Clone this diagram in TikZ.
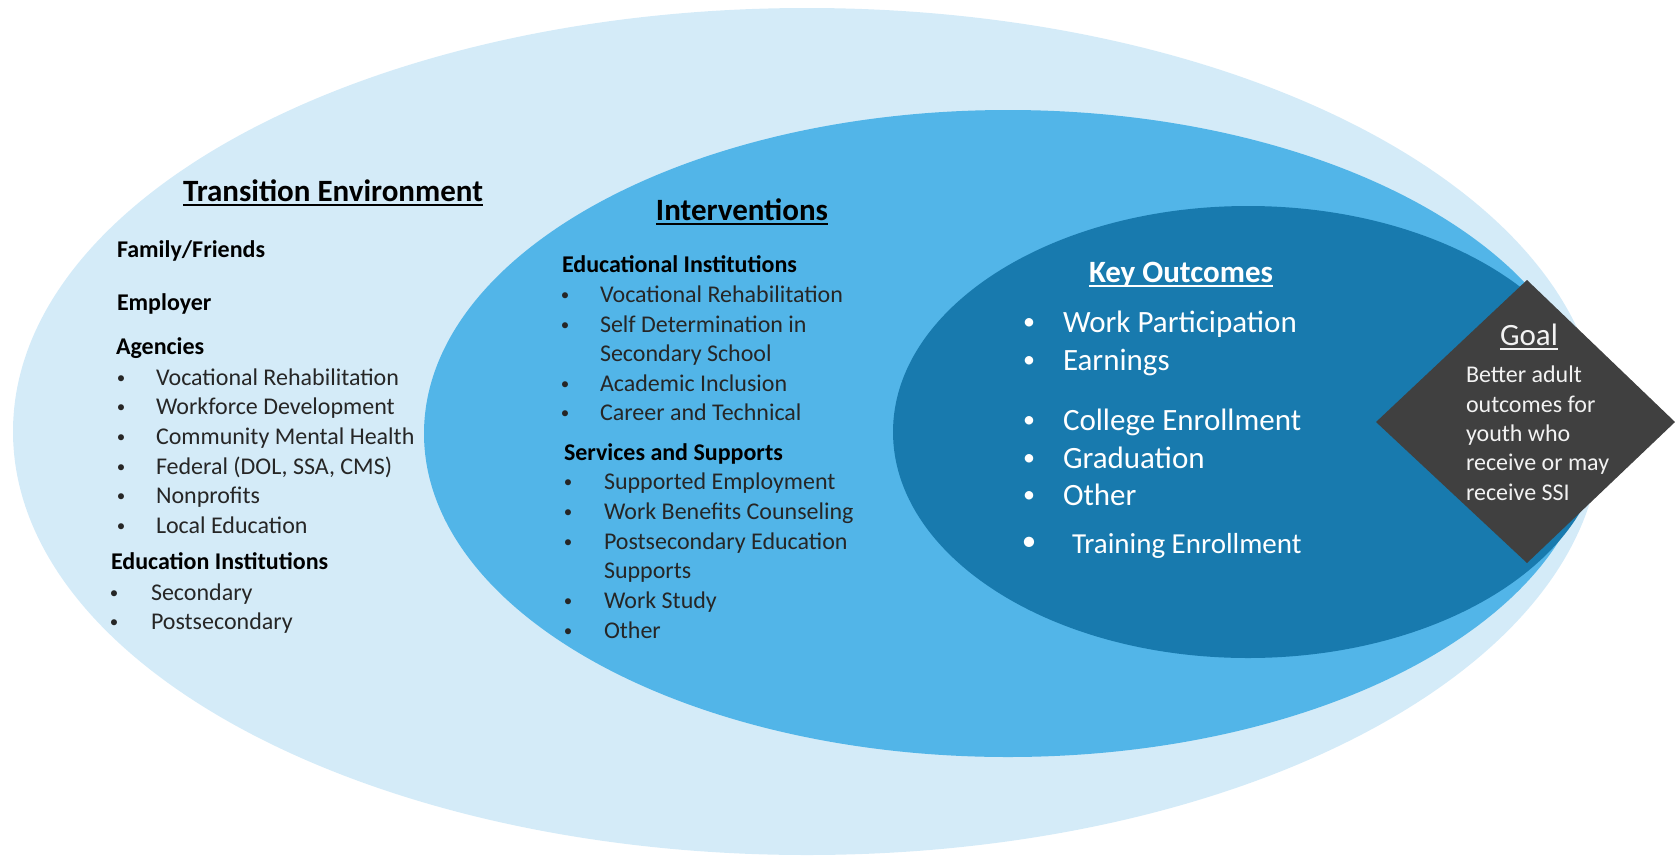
\documentclass[tikz,border=0pt]{standalone}
\usepackage{fontspec}
\setmainfont{Carlito}
\definecolor{outerc}{RGB}{212,235,248}
\definecolor{midc}{RGB}{82,181,232}
\definecolor{innerc}{RGB}{24,122,174}
\definecolor{goalc}{RGB}{64,64,64}
\definecolor{itemc}{RGB}{38,38,38}
\definecolor{goaltxt}{RGB}{242,242,242}
\newcommand\myul[1]{\setbox0\hbox{#1}\rlap{\rule[-0.17em]{\wd0}{0.065em}}\box0}
\newcommand\itm[5]{%
  \node[itemtxt,bul] (#1b) at (#2,#4) {\raisebox{2pt}{\textbullet}};
  \node[itemtxt] (#1) at (#3,#4) {#5};}
\newcommand\kitm[5]{%
  \node[outtxt,obul] (#1b) at (#2,#4) {\raisebox{2.5pt}{\textbullet}};
  \node[outtxt] (#1) at (#3,#4) {#5};}
\begin{document}
\begin{tikzpicture}[x=1pt,y=-1pt,
  base/.style={anchor=base west,inner sep=0pt,outer sep=0pt},
  itemtxt/.style={base,text=itemc,font=\fontsize{24}{29}\selectfont},
  hd/.style={base,text=black,font=\fontsize{24}{29}\selectfont\bfseries},
  ttl/.style={anchor=base,inner sep=0pt,outer sep=0pt,text=black,font=\fontsize{31}{37}\selectfont\bfseries},
  outtxt/.style={base,text=white,font=\fontsize{31}{37}\selectfont},
  goaltx/.style={base,text=goaltxt,font=\fontsize{24}{29}\selectfont},
  bul/.style={anchor=base,font=\fontsize{17}{20}\selectfont},
  obul/.style={anchor=base,font=\fontsize{24}{28}\selectfont}]
\useasboundingbox (0,0) rectangle (1675,860);
% ellipses
\fill[outerc] (807,431.5) ellipse [x radius=794, y radius=423.5];
\fill[midc] (1008,433.5) ellipse [x radius=584, y radius=323.5];
\fill[innerc] (1248,432) ellipse [x radius=355, y radius=226];
% goal diamond
\fill[goalc] (1527,280) -- (1675,422) -- (1527,563) -- (1376,422) -- cycle;

% Transition Environment
\node[ttl] (te) at (333,201) {\myul{Transition Environment}};
\node[hd] (ff) at (117,257) {Family/Friends};
\node[hd] (emp) at (117,310) {Employer};
\node[hd] (ag) at (116,354) {Agencies};
\itm{a1}{121}{156}{385}{Vocational Rehabilitation}
\itm{a2}{121}{156}{414}{Workforce Development}
\itm{a3}{121}{156}{444}{Community Mental Health}
\itm{a4}{121}{156}{474}{Federal (DOL, SSA, CMS)}
\itm{a5}{121}{156}{503}{Nonprofits}
\itm{a6}{121}{156}{533}{Local Education}
\node[hd] (edi) at (111,569) {Education Institutions};
\itm{e1}{114}{151}{600}{Secondary}
\itm{e2}{114}{151}{629}{Postsecondary}

% Interventions
\node[ttl] (iv) at (742,220) {\myul{Interventions}};
\node[hd] (ei) at (562,272) {Educational Institutions};
\itm{i1}{565}{600}{302}{Vocational Rehabilitation}
\itm{i2}{565}{600}{332}{Self Determination in}
\node[itemtxt] (i2c) at (600,361) {Secondary School};
\itm{i3}{565}{600}{391}{Academic Inclusion}
\itm{i4}{565}{600}{420}{Career and Technical}
\node[hd] (ss) at (564,460) {Services and Supports};
\itm{s1}{568}{604}{489}{Supported Employment}
\itm{s2}{568}{604}{519}{Work Benefits Counseling}
\itm{s3}{568}{604}{549}{Postsecondary Education}
\node[itemtxt] (s3c) at (604,578) {Supports};
\itm{s4}{568}{604}{608}{Work Study}
\itm{s5}{568}{604}{638}{Other}

% Key Outcomes
\node[ttl,text=white] (ko) at (1181,282) {\myul{Key Outcomes}};
\kitm{k1}{1029}{1063}{332}{Work Participation}
\kitm{k2}{1029}{1063}{370}{Earnings}
\kitm{k3}{1029}{1063}{430}{College Enrollment}
\kitm{k4}{1029}{1063}{468}{Graduation}
\kitm{k5}{1029}{1063}{505}{Other}
\node[outtxt,anchor=base,font=\fontsize{29}{34}\selectfont] (k6b) at (1029,553) {\raisebox{2.5pt}{\textbullet}};
\node[outtxt,font=\fontsize{29}{35}\selectfont] (k6) at (1072,553) {Training Enrollment};

% Goal
\node[anchor=base,inner sep=0pt,text=goaltxt,font=\fontsize{31}{37}\selectfont] (goal) at (1529,345) {\myul{Goal}};
\node[goaltx] (g1) at (1466,382) {Better adult};
\node[goaltx] (g2) at (1466,412) {outcomes for};
\node[goaltx] (g3) at (1466,441) {youth who};
\node[goaltx] (g4) at (1466,470) {receive or may};
\node[goaltx] (g5) at (1466,500) {receive SSI};
\end{tikzpicture}
\end{document}
